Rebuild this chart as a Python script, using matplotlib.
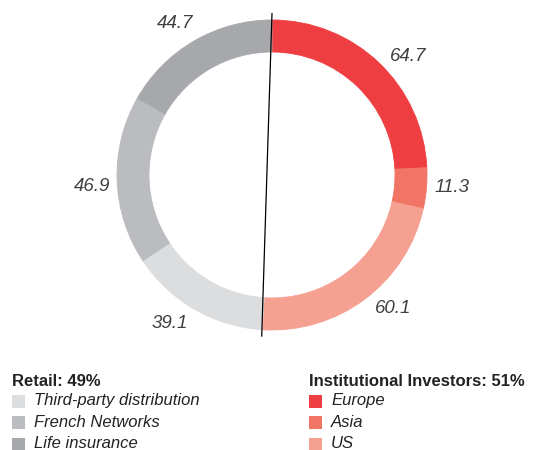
import matplotlib
matplotlib.use("Agg")
import matplotlib.pyplot as plt
import numpy as np
from matplotlib.patches import Rectangle

# clockwise from 12 o'clock
categories = ["Europe", "Asia", "US", "Third-party distribution", "French Networks", "Life insurance"]
values = [64.7, 11.3, 60.1, 39.1, 46.9, 44.7]
colors = ["#ee3e42", "#f07565", "#f5a091", "#dcdddf", "#bbbcc0", "#a7a8ab"]
value_labels = ["64.7", "11.3", "60.1", "39.1", "46.9", "44.7"]

retail_title = "Retail: 49%"
retail_items = [3, 4, 5]
inst_title = "Institutional Investors: 51%"
inst_items = [0, 1, 2]

W, H = 533, 450
CX, CY = 272, H - 175
R, RING = 155, 32
# small angular nudges (deg, counter-clockwise) so labels sit like the original
label_nudge = [-5.4, 1.1, 5.2, -4.6, 1.6, 2.4]

plt.rcParams["font.family"] = ["Liberation Sans", "DejaVu Sans"]

fig = plt.figure(figsize=(W / 100, H / 100), dpi=100)
ax = fig.add_axes([0, 0, 1, 1])

wedges, _ = ax.pie(values, colors=colors, startangle=90, counterclock=False,
                   radius=R, center=(CX, CY),
                   wedgeprops=dict(width=RING, linewidth=0.6, antialiased=True))
for w, c in zip(wedges, colors):
    w.set_edgecolor(c)

# value labels outside the ring
for w, lab, nd in zip(wedges, value_labels, label_nudge):
    mid = np.radians((w.theta1 + w.theta2) / 2 + nd)
    r = R * 1.163
    ax.text(CX + r * np.cos(mid), CY + r * np.sin(mid), lab, ha="center", va="center",
            fontsize=13.5, style="italic", color="#404040")

# divider line between institutional (right) and retail (left)
split = np.radians(wedges[2].theta1)
rl = R + 7
ax.plot([CX, CX + rl * np.cos(split)], [CY + rl, CY + rl * np.sin(split)],
        color="black", lw=0.9, solid_capstyle="butt")

ax.set_xlim(0, W)
ax.set_ylim(0, H)
ax.set_aspect("equal")
ax.axis("off")


def legend_block(x, title, items):
    ax.text(x, H - 381, title, fontsize=12, fontweight="bold", color="#222222",
            ha="left", va="center")
    for k, i in enumerate(items):
        yc = H - (401 + 21.5 * k)
        ax.add_patch(Rectangle((x, yc - 6.5), 13, 13, facecolor=colors[i], edgecolor="none"))
        ax.text(x + 22, yc, categories[i], fontsize=12, style="italic", color="#222222",
                ha="left", va="center")


legend_block(12, retail_title, retail_items)
legend_block(309, inst_title, inst_items)

fig.savefig("out.png", dpi=100)
